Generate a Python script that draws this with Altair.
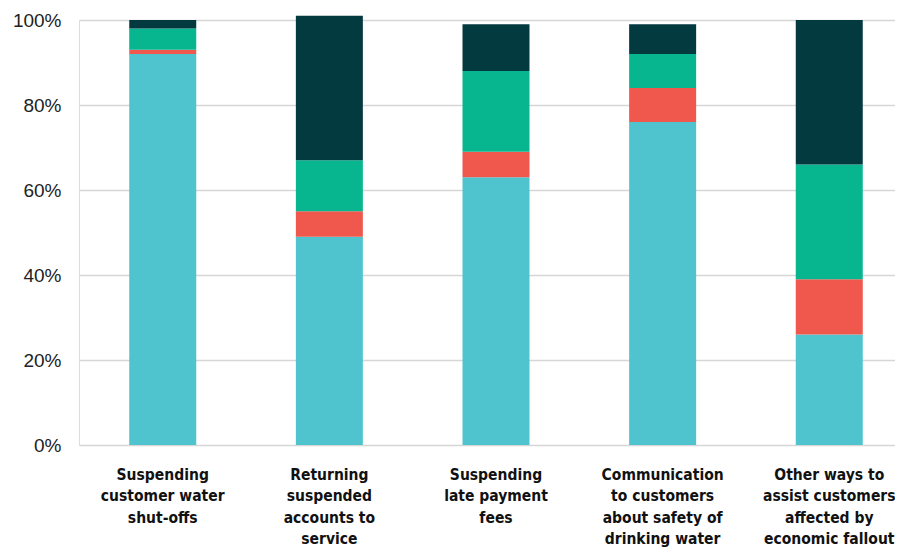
import altair as alt
import pandas as pd

categories = [
    "Suspending|customer water|shut-offs",
    "Returning|suspended|accounts to|service",
    "Suspending|late payment|fees",
    "Communication|to customers|about safety of|drinking water",
    "Other ways to|assist customers|affected by|economic fallout",
]
series = ["s1", "s2", "s3", "s4"]
colors = ["#4FC4CF", "#F0584E", "#07B68F", "#033A40"]
values = {
    "s1": [92, 49, 63, 76, 26],
    "s2": [1, 6, 6, 8, 13],
    "s3": [5, 12, 19, 8, 27],
    "s4": [2, 34, 11, 7, 34],
}
y_ticks = [0, 0.2, 0.4, 0.6, 0.8, 1.0]

rows = []
for si, s in enumerate(series):
    for ci, c in enumerate(categories):
        rows.append({"cat": c, "series": s, "order": si, "value": values[s][ci] / 100})
df = pd.DataFrame(rows)

chart = (
    alt.Chart(df)
    .mark_bar(size=67)
    .encode(
        x=alt.X(
            "cat:N",
            sort=categories,
            scale=alt.Scale(range=[0, 834], paddingInner=0.599, paddingOuter=0.302),
            axis=alt.Axis(
                title=None,
                labelAngle=0,
                labelExpr="split(datum.label, '|')",
                labelFont="DejaVu Sans Condensed, sans-serif",
                labelFontWeight="bold",
                labelFontSize=15.5,
                labelLineHeight=21.5,
                labelColor="#111111",
                labelPadding=22,
                labelBaseline="top",
                ticks=False,
                domain=False,
                labelLimit=300,
            ),
        ),
        y=alt.Y(
            "value:Q",
            stack="zero",
            scale=alt.Scale(domain=[0, 1], nice=False, clamp=False),
            axis=alt.Axis(
                title=None,
                values=y_ticks,
                format=".0%",
                labelFont="Liberation Sans, Arial, sans-serif",
                labelFontSize=19,
                labelColor="#222222",
                labelPadding=18,
                ticks=False,
                domain=False,
                grid=True,
                gridColor="#d6d6d6",
                gridWidth=1.5,
            ),
        ),
        color=alt.Color(
            "series:N",
            scale=alt.Scale(domain=series, range=colors),
            legend=None,
        ),
        order=alt.Order("order:Q", sort="ascending"),
    )
    .properties(
        width=816,
        height=425,
        padding={"left": 71, "top": 12, "right": 0, "bottom": 108},
        autosize=alt.AutoSizeParams(type="none"),
    )
    .configure_view(stroke=None)
    .configure(background="white")
)

chart.save("out.html", embed_options={"renderer": "svg", "actions": False})
